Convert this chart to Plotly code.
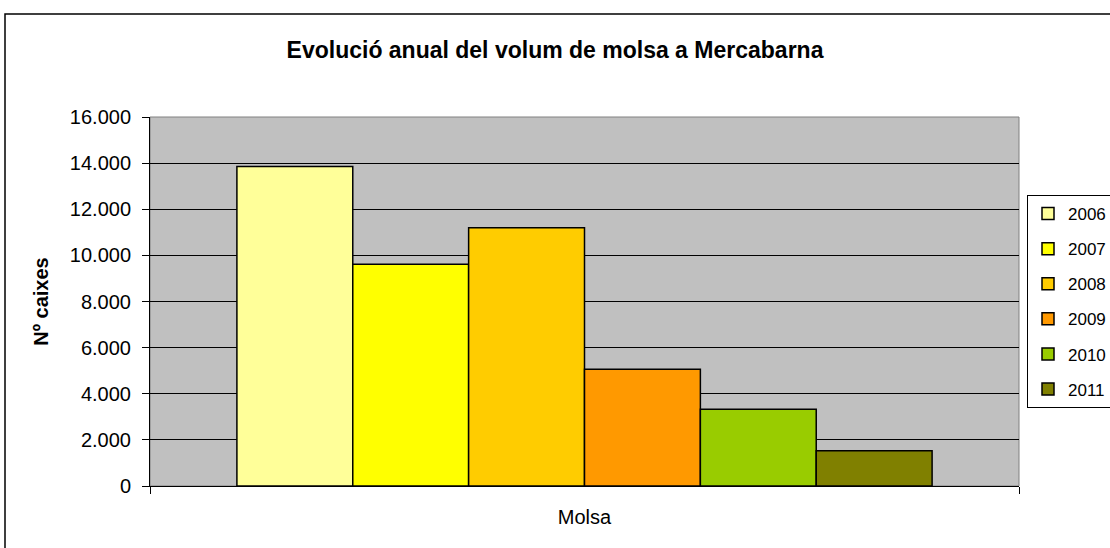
import plotly.graph_objects as go

categories = ["Molsa"]
years = ["2006", "2007", "2008", "2009", "2010", "2011"]
values = [13850, 9620, 11200, 5060, 3330, 1530]
colors = ["#FFFF99", "#FFFF00", "#FFCC00", "#FF9900", "#99CC00", "#808000"]

fig = go.Figure()
for y, v, c in zip(years, values, colors):
    fig.add_trace(go.Bar(
        x=categories, y=[v], name=y, legendgroup=y,
        marker=dict(color=c, line=dict(color="black", width=1.5)),
    ))

W, H = 1110, 548
L, R, T, B = 150, 1019, 117, 486
pw, ph = R - L, B - T

def px(x):
    return (x - L) / pw

def py(y):
    return (B - y) / ph

fig.update_layout(
    width=W, height=H,
    margin=dict(l=L, r=W - R, t=T, b=H - B, autoexpand=False),
    paper_bgcolor="white",
    plot_bgcolor="#C0C0C0",
    barmode="group",
    bargap=0.2,
    bargroupgap=0,
    separators=",.",
    font=dict(family="Liberation Sans, Arial, sans-serif", color="black"),
    title=dict(
        text="<b>Evolució anual del volum de molsa a Mercabarna</b>",
        x=555 / W, xanchor="center", xref="container",
        y=1 - 50 / H, yanchor="middle", yref="container",
        font=dict(size=23, color="black"),
    ),
    showlegend=True,
    legend=dict(
        x=px(1027), y=py(195), xanchor="left", yanchor="top",
        bgcolor="white", bordercolor="black", borderwidth=1,
        font=dict(size=17, color="black"),
        tracegroupgap=10,
        traceorder="grouped",
    ),
    xaxis=dict(
        type="category",
        tickson="boundaries",
        ticks="outside", ticklen=7, tickcolor="black", tickwidth=1,
        showline=True, linecolor="black", linewidth=1,
        showgrid=False,
        tickfont=dict(size=20, color="black"),
        ticklabelstandoff=13,
    ),
    yaxis=dict(
        range=[0, 16000], dtick=2000, tickformat=",d",
        ticks="outside", ticklen=7, tickcolor="black", tickwidth=1,
        showline=True, linecolor="black", linewidth=1,
        showgrid=True, gridcolor="black", gridwidth=1,
        zeroline=False,
        tickfont=dict(size=20, color="black"),
        ticklabelstandoff=7,
        title=dict(text="<b>Nº caixes</b>", font=dict(size=20, color="black"), standoff=15),
    ),
    shapes=[
        dict(type="rect", xref="paper", yref="paper",
             x0=px(5), x1=px(1200), y0=py(600), y1=py(14),
             line=dict(color="black", width=1.5), fillcolor="rgba(0,0,0,0)", layer="below"),
        dict(type="rect", xref="x domain", yref="y domain",
             x0=0, x1=1, y0=0, y1=1,
             line=dict(color="#808080", width=1), fillcolor="rgba(0,0,0,0)", layer="below"),
    ],
)

fig.write_html(
    "out.html",
    config={"displayModeBar": False},
    post_script="document.body.style.margin='0px';document.body.style.overflow='hidden';",
)
